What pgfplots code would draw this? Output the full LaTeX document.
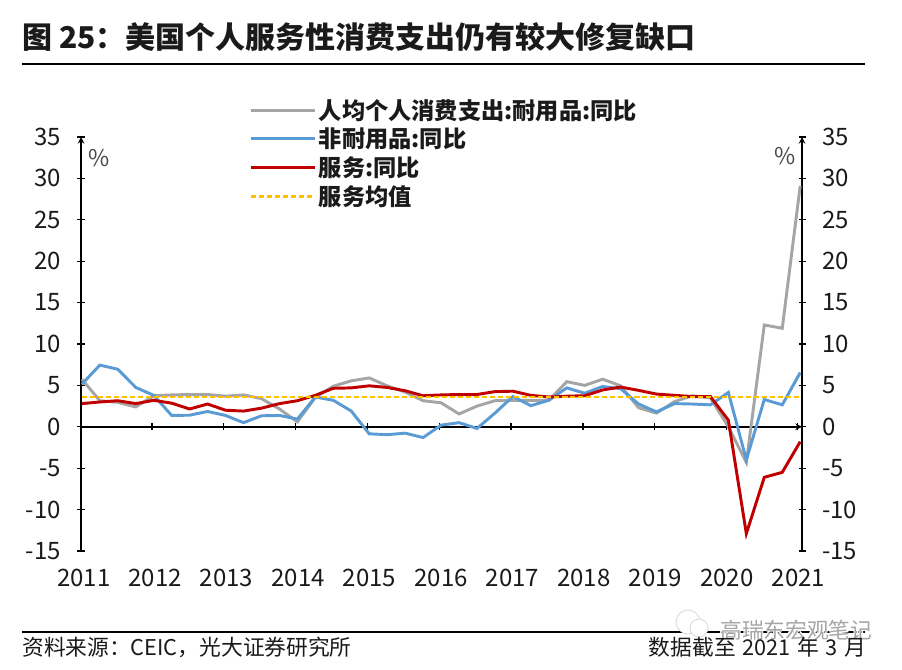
\documentclass[border=0pt]{standalone}
\usepackage{fontspec}
\usepackage{pgfplots}
\pgfplotsset{compat=1.18}
\setmainfont{Noto Sans CJK SC}
\definecolor{cgrey}{HTML}{A5A5A5}
\definecolor{cblue}{HTML}{5B9BD5}
\definecolor{cred}{HTML}{C00000}
\definecolor{corange}{HTML}{FFC000}
\definecolor{ctext}{HTML}{1A1A1A}
% sizes are in pt, picture scale is 1 reference pixel = 0.75pt
\newcommand{\fs}[1]{\fontsize{#1pt}{#1pt}\selectfont}
\pgfplotsset{
  common/.style={
    at={(60.75pt,89.25pt)}, anchor=south west,
    scale only axis, width=540.75pt, height=310.5pt,
    xmin=-0.05, xmax=40.1, ymin=-15, ymax=35,
    ytick={-15,-10,...,35},
    tick align=inside,
    major tick length=5.25pt,
    axis line style={-, line width=1.2pt, color=black},
    tick style={line width=0.9pt, color=black},
    hide obscured x ticks=false, hide obscured y ticks=false,
    tick label style={font=\fs{18}, text=ctext},
    /pgf/number format/assume math mode=true,
    /pgf/number format/1000 sep={},
  }
}
\pgfplotstableread{
i durable nondur service mean
0 5.75 5.15 2.8 3.6
1 3.15 7.45 3.0 3.6
2 2.95 6.95 3.15 3.6
3 2.4 4.75 2.8 3.6
4 3.75 3.8 3.2 3.6
5 3.85 1.37 2.85 3.6
6 3.9 1.4 2.15 3.6
7 3.9 1.85 2.75 3.6
8 3.7 1.37 2.0 3.6
9 3.85 0.5 1.9 3.6
10 3.4 1.33 2.25 3.6
11 2.15 1.37 2.8 3.6
12 0.6 0.93 3.15 3.6
13 3.55 3.6 3.8 3.6
14 4.9 3.2 4.65 3.6
15 5.55 1.9 4.7 3.6
16 5.9 -0.85 4.95 3.6
17 4.95 -0.95 4.75 3.6
18 4.2 -0.77 4.35 3.6
19 3.15 -1.3 3.75 3.6
20 2.9 0.2 3.85 3.6
21 1.55 0.5 3.9 3.6
22 2.5 -0.2 3.9 3.6
23 3.15 1.65 4.25 3.6
24 3.2 3.66 4.3 3.6
25 3.2 2.55 3.8 3.6
26 3.2 3.2 3.6 3.6
27 5.45 4.7 3.7 3.6
28 5.0 4.05 3.75 3.6
29 5.75 4.87 4.45 3.6
30 4.95 4.6 4.8 3.6
31 2.3 2.75 4.4 3.6
32 1.65 1.8 3.95 3.6
33 3.05 2.8 3.8 3.6
34 3.75 2.75 3.65 3.6
35 3.5 2.65 3.65 3.6
36 0.0 4.15 0.8 3.6
37 -4.3 -4.0 -12.9 3.6
38 12.3 3.3 -6.1 3.6
39 11.9 2.65 -5.5 3.6
40 29.1 6.55 -1.8 3.6
}\datatable
\begin{document}
\begin{tikzpicture}[x=0.75pt,y=0.75pt]
\path[use as bounding box] (0,0) rectangle (902,670);
% left axis and the year labels at the bottom
\begin{axis}[common,
    axis y line=left, axis x line=bottom,
    x axis line style={draw=none},
    xtick style={draw=none},
    xtick={0.1,4.08,8.06,12.04,16.02,20,23.98,27.96,31.94,35.92,39.9},
    xticklabels={2011,2012,2013,2014,2015,2016,2017,2018,2019,2020,2021},
    xticklabel style={yshift=-7.5pt},
    yticklabel style={xshift=-9pt},
]
\end{axis}
% right axis, zero line, data
\begin{axis}[common,
    axis y line=right, axis x line=middle,
    xtick={3.9,7.9,11.9,15.9,19.9,23.9,27.9,31.9,35.9,39.85},
    xticklabels={},
    yticklabel style={xshift=9pt},
    legend style={at={(126pt,341pt)}, anchor=north west, draw=none, fill=none,
      font=\fs{17.4}\bfseries, text=ctext, cells={anchor=west},
      row sep=1.2pt, inner sep=0pt},
    legend cell align=left,
    legend image code/.code={
      \draw[#1] plot coordinates {(0pt,0pt) (45.75pt,0pt)};
      \path (0pt,0pt) -- (48pt,0pt);
    },
]
\addplot[cgrey, line width=2.2pt] table[x=i,y=durable] {\datatable};
\addplot[cblue, line width=2.2pt] table[x=i,y=nondur] {\datatable};
\addplot[cred, line width=2.2pt] table[x=i,y=service] {\datatable};
\addplot[corange, line width=1.7pt, dash pattern=on 3.75pt off 2.25pt] table[x=i,y=mean] {\datatable};
\legend{人均个人消费支出:耐用品:同比,非耐用品:同比,服务:同比,服务均值}
\end{axis}
\node[anchor=center, text=ctext!80, font=\fs{17.25}] at (99,512) {\%};
\node[anchor=center, text=ctext!80, font=\fs{17.25}] at (785,514) {\%};
% title and rules
\node[anchor=west, inner sep=0pt, text=ctext, font=\fs{22.5}\bfseries] at (22,633) {图 25：美国个人服务性消费支出仍有较大修复缺口};
\draw[black, line width=1.1pt] (22,606) -- (865,606);
\draw[black, line width=1.1pt] (22,38) -- (865,38);
\node[anchor=west, inner sep=0pt, text=ctext, font=\fs{16.3}] at (22,23) {资料来源：CEIC，光大证券研究所};
% watermark icon and halo sit over the rule, under the source text
\draw[gray!35, fill=white, line width=0.5pt] (688,48) circle (12);
\draw[gray!35, fill=white, line width=0.5pt] (699,42) circle (9);
\foreach \dx/\dy in {-1.5/0,1.5/0,0/-1.5,0/1.5}
  \node[anchor=west, inner sep=0pt, text=white, font=\fs{16.3}] at (720+\dx,40+\dy) {高瑞东宏观笔记};
\node[anchor=west, inner sep=0pt, text=gray!70, font=\fs{16.3}] at (720,40) {高瑞东宏观笔记};
\node[anchor=east, inner sep=0pt, text=ctext, font=\fs{16.3}] at (866,23) {数据截至\hspace{0.3em}2021\hspace{0.3em}年\hspace{0.3em}3\hspace{0.3em}月};
\end{tikzpicture}
\end{document}
